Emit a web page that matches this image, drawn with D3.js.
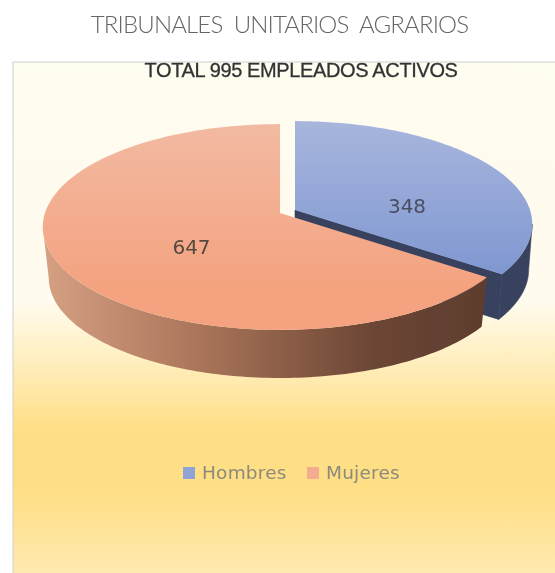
<!DOCTYPE html>
<html>
<head>
<meta charset="utf-8">
<script src="https://cdn.jsdelivr.net/npm/d3@7"></script>
<style>
  html, body { margin: 0; padding: 0; background: #fff; }
  svg { display: block; }
</style>
</head>
<body>
<div class="chart"></div>
<script>
// data
var categories = ["Hombres", "Mujeres"];
var empleados = [348, 647];
var chartTitle = "TRIBUNALES  UNITARIOS  AGRARIOS";
var chartSubtitle = "TOTAL 995 EMPLEADOS ACTIVOS";

var width = 555;
var height = 573;

const svg = d3.select(".chart")
  .append("svg")
  .attr("width", width)
  .attr("height", height);

var defs = svg.append("defs");

function gradient(id, x1, y1, x2, y2, stops) {
  var g = defs.append("linearGradient")
    .attr("id", id)
    .attr("gradientUnits", "userSpaceOnUse")
    .attr("x1", x1).attr("y1", y1)
    .attr("x2", x2).attr("y2", y2);
  stops.forEach(s => g.append("stop").attr("offset", s[0]).attr("stop-color", s[1]));
}

gradient("panelFill", 0, 62, 0, 573, [
  [0, "#fffcf0"], [0.47, "#fffbee"], [0.72, "#ffdf85"], [0.84, "#ffdf85"], [1, "#fee9b0"]
]);
gradient("blueTop", 0, 120, 0, 275, [[0, "#a8b6dd"], [1, "#7f97d1"]]);
gradient("orangeTop", 0, 124, 0, 290, [[0, "#f2baa2"], [1, "#f4a27f"]]);
gradient("orangeSide", 42, 0, 487, 0, [
  [0, "#d6a083"], [0.35, "#aa755a"], [0.75, "#6b4534"], [1, "#5e3d2e"]
]);

defs.append("filter").attr("id", "soft")
  .append("feGaussianBlur").attr("stdDeviation", 0.45);

var root = svg.append("g").attr("filter", "url(#soft)");

// background panel
root.append("rect")
  .attr("x", 13).attr("y", 62)
  .attr("width", width).attr("height", height)
  .attr("fill", "url(#panelFill)")
  .attr("stroke", "#cfcfcf");

// slices, clockwise from the top like the original
var pie = d3.pie().sort(null).value(d => d);
var arcs = pie(empleados);

var rx = d3.scaleLinear().domain([-1, 1]).range([-235, 235]);
var ry = d3.scaleLinear().domain([-1, 1]).range([-101, 101]);
var perspective = 0.136;

// the wall is only visible between the left and right extremes of the rim
var frontStart = Math.acos(-perspective);
var frontEnd = 2 * Math.PI - frontStart;

// pulled out slice has its own centre, and sits a little thinner in the picture
var centers = [
  {x: 295, y: 210, depth: 46, shrink: 0.985},
  {x: 280, y: 213, depth: 51, shrink: 0.975}
];
var topFills = ["url(#blueTop)", "url(#orangeTop)"];
var sideFills = ["#37425e", "url(#orangeSide)"];
var sideStrokes = ["#37425e", "none"];

function rim(center, angle, bottom) {
  var X = Math.sin(angle), Y = -Math.cos(angle);
  var k = 1 / (1 - perspective * Y);
  var s = bottom ? center.shrink : 1;
  return [
    center.x + rx(X) * k * s,
    center.y + ry(Y) * k * s + (bottom ? center.depth : 0)
  ];
}

function rimPoints(center, a0, a1, bottom) {
  return d3.range(0, 121).map(i => rim(center, a0 + (a1 - a0) * i / 120, bottom));
}

var line = d3.line();

arcs.forEach((d, i) => {
  var c = centers[i];
  var g = root.append("g").attr("class", "slice-" + categories[i]);

  // cut wall of the slice, most of it ends up behind the next slice
  g.append("path")
    .attr("d", line([[c.x, c.y], rim(c, d.endAngle), rim(c, d.endAngle, true), [c.x, c.y + c.depth]]) + "Z")
    .attr("fill", sideFills[i])
    .attr("stroke", sideStrokes[i])
    .attr("stroke-width", 0.6);

  // outer wall
  var a0 = Math.max(d.startAngle, frontStart);
  var a1 = Math.min(d.endAngle, frontEnd);
  g.append("path")
    .attr("d", line(rimPoints(c, a0, a1).concat(rimPoints(c, a0, a1, true).reverse())) + "Z")
    .attr("fill", sideFills[i])
    .attr("stroke", sideStrokes[i])
    .attr("stroke-width", 0.6);

  // top face
  g.append("path")
    .attr("d", line([[c.x, c.y]].concat(rimPoints(c, d.startAngle, d.endAngle))) + "Z")
    .attr("fill", topFills[i]);
});

// value labels
root.append("text")
  .attr("x", 407).attr("y", 213)
  .attr("text-anchor", "middle")
  .attr("font-family", "'DejaVu Sans', sans-serif")
  .attr("font-size", 20)
  .attr("fill", "#4a4f60")
  .text(empleados[0]);
root.append("text")
  .attr("x", 191.5).attr("y", 254)
  .attr("text-anchor", "middle")
  .attr("font-family", "'DejaVu Sans', sans-serif")
  .attr("font-size", 20)
  .attr("fill", "#57483f")
  .text(empleados[1]);

// titles
root.append("text")
  .attr("x", 279.5).attr("y", 33)
  .attr("text-anchor", "middle")
  .attr("font-family", "Lato, sans-serif")
  .attr("font-weight", 300)
  .attr("font-size", 24)
  .attr("letter-spacing", -0.85)
  .attr("fill", "#666")
  .style("white-space", "pre")
  .text(chartTitle);
root.append("text")
  .attr("x", 301).attr("y", 77)
  .attr("text-anchor", "middle")
  .attr("font-family", "'Liberation Sans', sans-serif")
  .attr("font-size", 20)
  .attr("letter-spacing", -0.37)
  .attr("fill", "#333")
  .attr("stroke", "#333")
  .attr("stroke-width", 0.3)
  .text(chartSubtitle);

// legend
var legendX = d3.scaleOrdinal().domain(categories).range([183, 307]);
var legendColors = d3.scaleOrdinal().domain(categories).range(["#8fa3d6", "#f5ab8f"]);

var legend = root.append("g").attr("id", "legend");
legend.selectAll("rect")
  .data(categories)
  .enter()
  .append("rect")
  .attr("x", d => legendX(d))
  .attr("y", 467)
  .attr("width", 12)
  .attr("height", 12)
  .attr("fill", d => legendColors(d));
legend.selectAll("text")
  .data(categories)
  .enter()
  .append("text")
  .attr("x", d => legendX(d) + 19)
  .attr("y", 479)
  .attr("font-family", "'DejaVu Sans', sans-serif")
  .attr("font-size", 18.5)
  .attr("letter-spacing", 0.2)
  .attr("fill", "#8b8a7c")
  .text(d => d);
</script>
</body>
</html>
